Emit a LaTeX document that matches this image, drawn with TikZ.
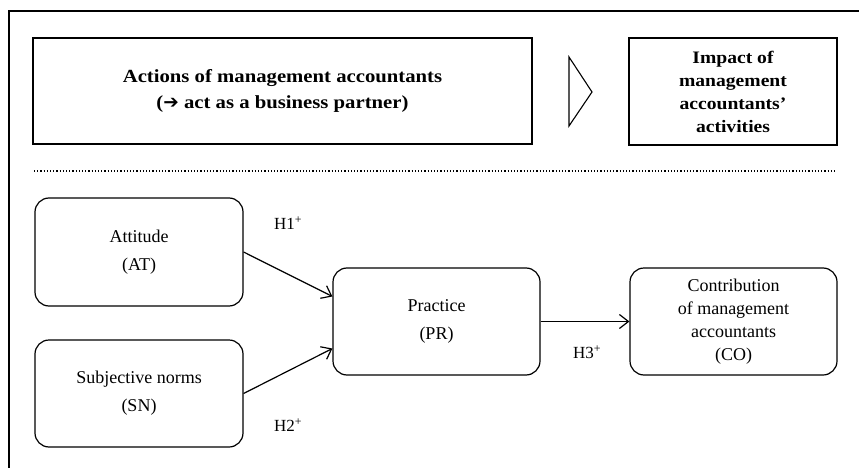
\documentclass[tikz,border=0pt]{standalone}
\usepackage{fontspec}
\setmainfont{Liberation Serif}
\newfontfamily\headfont[FakeStretch=1.12,Ligatures=TeX]{Liberation Serif}
\newfontfamily\symbolfont{DejaVu Sans}
\usetikzlibrary{arrows.meta}
\begin{document}
\begin{tikzpicture}[x=1pt,y=-1pt,
  frameline/.style={line width=1.5pt},
  headbox/.style={draw,line width=1.3pt,inner sep=0pt,align=center,
    font=\headfont\fontsize{18.5}{26}\selectfont\bfseries},
  constr/.style={draw,line width=1.2pt,rounded corners=14pt,inner sep=0pt,
    align=center,font=\fontsize{18}{28}\selectfont},
  link/.style={line width=1.2pt,-{Straight Barb[length=9pt,width=14pt,line width=1.2pt]}},
  hyp/.style={font=\fontsize{17}{20}\selectfont}]
\useasboundingbox (0,0) rectangle (859,468);

% open frame: top and left edges
\draw[frameline] (859,11) -- (9,11) -- (9,468);

% upper band: actions and their impact
\node[headbox,minimum width=499pt,minimum height=106pt] (act) at (282.5,91)
  {Actions of management accountants\\({\symbolfont ➔} act as a business partner)};
\node[headbox,minimum width=208pt,minimum height=107pt,
  font=\headfont\fontsize{17.5}{23}\selectfont\bfseries] (imp) at (733,91.5)
  {Impact of\\management\\accountants’\\activities};
\draw[line width=1.1pt] (569,57) -- (592,92) -- (569,126) -- cycle;

% separator
\draw[line width=1.2pt,dotted] (34,171) -- (837,171);

% research model
\node[constr,minimum width=208pt,minimum height=108pt] (at) at (139,252)
  {Attitude\\(AT)};
\node[constr,minimum width=208pt,minimum height=107pt] (sn) at (139,393.5)
  {Subjective norms\\(SN)};
\node[constr,minimum width=207pt,minimum height=107pt] (pr) at (436.5,321.5)
  {Practice\\(PR)};
\node[constr,minimum width=207pt,minimum height=107pt,
  font=\fontsize{18}{23}\selectfont] (co) at (733.5,321.5)
  {Contribution\\of management\\accountants\\(CO)};

\draw[link] (at.east) -- ([yshift=25pt]pr.west);
\draw[link] (sn.east) -- ([yshift=-27pt]pr.west);
\draw[link] (pr.east) -- (co.west);

\node[hyp] (h1) at (288,223) {H1\textsuperscript{+}};
\node[hyp] (h2) at (288,425) {H2\textsuperscript{+}};
\node[hyp] (h3) at (587,352) {H3\textsuperscript{+}};
\end{tikzpicture}
\end{document}
